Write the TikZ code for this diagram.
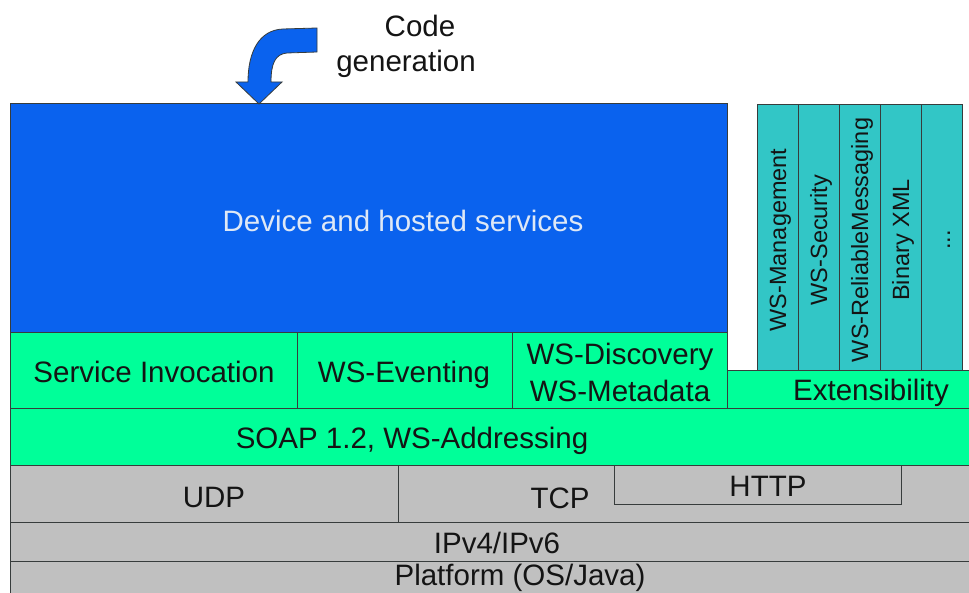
\documentclass[tikz,border=0pt]{standalone}
\usepackage{fontspec}
\setmainfont{Liberation Sans}
\definecolor{devblue}{RGB}{10,98,238}
\definecolor{lgreen}{RGB}{0,255,153}
\definecolor{extteal}{RGB}{50,198,198}
\definecolor{lgray}{RGB}{192,192,192}
\definecolor{edgec}{RGB}{55,60,60}
\definecolor{txt}{RGB}{20,20,20}
\definecolor{devtxt}{RGB}{222,232,246}
\newcommand\lyr[6]{\node[box,fill=#5,minimum width={(#3-#1)*1pt},minimum height={(#4-#2)*1pt}] (#6) at ({(#1+#3)/2},{(#2+#4)/2}) {};}
\begin{document}
\begin{tikzpicture}[x=1pt,y=-1pt,
  box/.style={draw=edgec,line width=1pt,inner sep=0pt,outer sep=0pt,rectangle},
  lbl/.style={text=txt,inner sep=0pt,anchor=base,font=\fontsize{29.5}{36}\selectfont},
  vlbl/.style={text=txt,inner sep=0pt,anchor=base,rotate=90,font=\fontsize{23.5}{28}\selectfont}]
\useasboundingbox (0,0) rectangle (969,593);
\clip (0,0) rectangle (969,593);
\fill[white] (0,0) rectangle (969,593);
% extension columns
\lyr{757}{105}{798}{371}{extteal}{c1}
\lyr{798}{105}{839}{371}{extteal}{c2}
\lyr{839}{105}{880}{371}{extteal}{c3}
\lyr{880}{105}{921}{371}{extteal}{c4}
\lyr{921}{105}{962}{371}{extteal}{c5}
\node[vlbl] (t1) at (786,240) {WS-Management};
\node[vlbl] (t2) at (827,240) {WS-Security};
\node[vlbl] (t3) at (868,240) {WS-ReliableMessaging};
\node[vlbl] (t4) at (909,240) {Binary XML};
\node[vlbl] (t5) at (950,240) {...};
% extensibility
\lyr{727}{371}{980}{408}{lgreen}{ext}
\node[lbl] (extl) at (871,400) {Extensibility};
% device and hosted services
\lyr{10}{104}{727}{333}{devblue}{dev}
\node[lbl,text=devtxt] (devl) at (403,232) {Device and hosted services};
% service row
\lyr{10}{333}{297}{408}{lgreen}{si}
\lyr{297}{333}{512}{408}{lgreen}{ev}
\lyr{512}{333}{727}{408}{lgreen}{disc}
\node[lbl] (sil) at (154,382) {Service Invocation};
\node[lbl] (evl) at (404,382) {WS-Eventing};
\node[lbl] (discl) at (620,365) {WS-Discovery};
\node[lbl] (metal) at (620,401) {WS-Metadata};
% SOAP
\lyr{10}{408}{980}{465}{lgreen}{soap}
\node[lbl] (soapl) at (412,448) {SOAP 1.2, WS-Addressing};
% transport
\lyr{10}{465}{398}{522}{lgray}{udp}
\lyr{398}{465}{980}{522}{lgray}{tcp}
\lyr{614}{465}{901}{504}{lgray}{http}
\node[lbl] (udpl) at (214,507) {UDP};
\node[lbl] (tcpl) at (560,508) {TCP};
\node[lbl] (httpl) at (768,496) {HTTP};
% IP
\lyr{10}{522}{980}{561}{lgray}{ip}
\node[lbl] (ipl) at (497,553) {IPv4/IPv6};
% platform
\lyr{10}{561}{980}{610}{lgray}{plat}
\node[lbl] (platl) at (520,585) {Platform (OS/Java)};
% code generation arrow
\filldraw[fill=devblue,draw=edgec,line width=0.8pt,line join=miter]
  (317,28) -- (283,29) .. controls (259,30) and (248,52) .. (248,82)
  -- (236,82) -- (259,104) -- (282,82) -- (271,82)
  .. controls (271,64) and (275,54) .. (287,53) -- (317,52) -- cycle;
\node[lbl] (code) at (420,37) {Code};
\node[lbl] (gen) at (406,72) {generation};
\end{tikzpicture}
\end{document}
